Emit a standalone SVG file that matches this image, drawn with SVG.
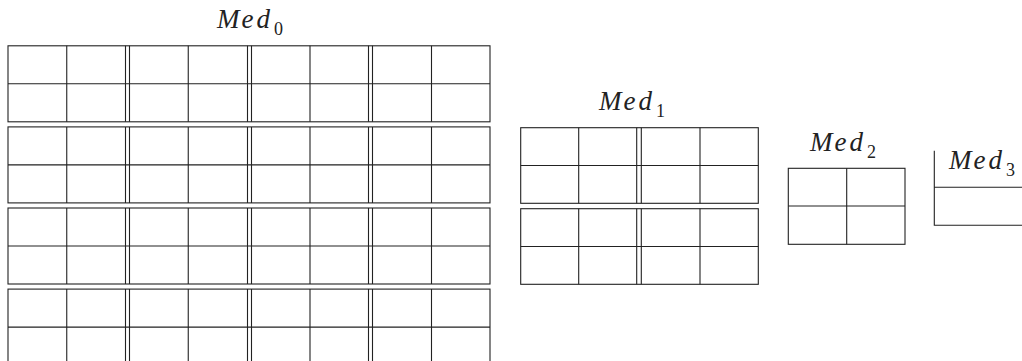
<svg xmlns="http://www.w3.org/2000/svg" width="1022" height="361" viewBox="0 0 1022 361">
<style>
.g{fill:none;stroke:#222;stroke-width:1.1}
</style>
<defs>
<g id="row0">
<rect class="g" x="8" y="0" width="482" height="76"/>
<path class="g" d="M8 38H490M66.75 0V76M125.5 0V76M129.5 0V76M188.25 0V76M247.5 0V76M251.5 0V76M310 0V76M368.5 0V76M372.5 0V76M431.5 0V76"/>
</g>
<g id="row1">
<rect class="g" x="520.7" y="0" width="237.6" height="75.6"/>
<path class="g" d="M520.7 37.8H758.3M578.7 0V75.6M636.7 0V75.6M641.3 0V75.6M700 0V75.6"/>
</g>
</defs>
<rect width="1022" height="361" fill="#fff"/>
<g id="med0">
<text x="217" y="28" dx="0 2 3" font-family="'Liberation Serif', 'DejaVu Serif', serif" font-style="italic" font-size="27" fill="#222">Med<tspan font-style="normal" font-size="18" dx="4" dy="7">0</tspan></text>
<use href="#row0" y="45.8"/>
<use href="#row0" y="126.9"/>
<use href="#row0" y="208"/>
<use href="#row0" y="289.1"/>
</g>
<g id="med1">
<text x="599" y="110" dx="0 2 3" font-family="'Liberation Serif', 'DejaVu Serif', serif" font-style="italic" font-size="27" fill="#222">Med<tspan font-style="normal" font-size="18" dx="4" dy="7">1</tspan></text>
<use href="#row1" y="127.7"/>
<use href="#row1" y="208.7"/>
</g>
<g id="med2">
<text x="810" y="151" dx="0 2 3" font-family="'Liberation Serif', 'DejaVu Serif', serif" font-style="italic" font-size="27" fill="#222">Med<tspan font-style="normal" font-size="18" dx="4" dy="7">2</tspan></text>
<rect class="g" x="788.3" y="168.3" width="116.7" height="76"/>
<path class="g" d="M788.3 206H905M846.7 168.3V244.3"/>
</g>
<g id="med3">
<text x="949" y="169" dx="0 2 3" font-family="'Liberation Serif', 'DejaVu Serif', serif" font-style="italic" font-size="27" fill="#222">Med<tspan font-style="normal" font-size="18" dx="4" dy="7">3</tspan></text>
<path class="g" d="M934.3 150.7V225.2H1023M934.3 187.3H1023"/>
</g>
<g id="connectors"></g>
</svg>
